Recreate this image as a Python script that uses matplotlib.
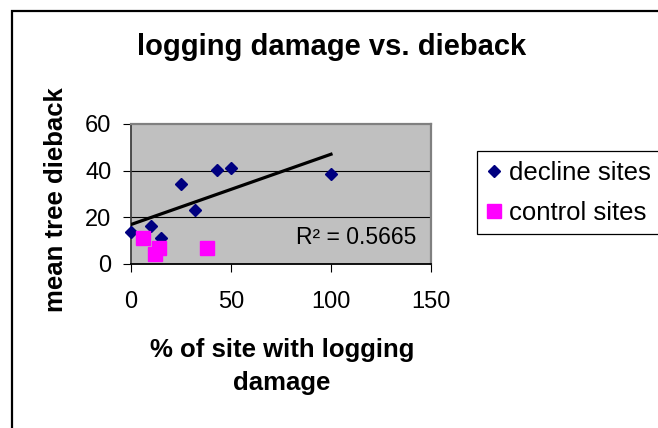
import numpy as np
import matplotlib
matplotlib.use("Agg")
import matplotlib.pyplot as plt
from matplotlib.patches import Rectangle

# ---- data ----
decline_x = [0, 10, 15, 25, 32, 43, 50, 100]
decline_y = [13.6, 16.4, 11.0, 34.3, 23.1, 40.1, 41.0, 38.7]
control_x = [6, 12, 14, 38]
control_y = [11.1, 4.3, 7.0, 6.7]
x_ticks = [0, 50, 100, 150]
y_ticks = [0, 20, 40, 60]
r2_label = "R\u00b2 = 0.5665"
title = "logging damage vs. dieback"
xlabel = "% of site with logging\ndamage"
ylabel = "mean tree dieback"
legend_labels = ["decline sites", "control sites"]

plt.rcParams['font.family'] = ['Liberation Sans', 'DejaVu Sans']

W, H = 658, 428
fig = plt.figure(figsize=(W / 100, H / 100), dpi=100)

def fx(px):
    return px / W

def fy(py):
    return 1 - py / H

# outer chart frame (right and bottom edges fall outside the picture)
fig.patches.append(Rectangle((fx(11.5), -0.1), 1.2, fy(10.7) + 0.1,
                             transform=fig.transFigure, fill=False,
                             edgecolor='black', linewidth=1.6, clip_on=False))

ax = fig.add_axes([fx(131), fy(264), fx(431) - fx(131), (264 - 124) / H])
ax.set_facecolor('#C0C0C0')
ax.set_xlim(0, 150)
ax.set_ylim(0, 60)
ax.set_xticks(x_ticks)
ax.set_yticks(y_ticks)

for yv in y_ticks[1:-1]:
    ax.axhline(yv, color='black', linewidth=0.8, zorder=1)

ax.spines['top'].set_color('#808080')
ax.spines['right'].set_color('#808080')
ax.spines['top'].set_linewidth(1.6)
ax.spines['right'].set_linewidth(1.6)
ax.spines['left'].set_color('#404040')
ax.spines['left'].set_linewidth(1.3)
ax.spines['bottom'].set_color('black')
ax.spines['bottom'].set_linewidth(1.3)

ax.tick_params(axis='both', direction='out', length=6, width=0.8,
               color='black', labelsize=17)
ax.tick_params(axis='y', pad=8)
ax.tick_params(axis='x', pad=13.5)

# trendline (linear fit of decline sites)
slope, intercept = np.polyfit(decline_x, decline_y, 1)
tx = np.array([min(decline_x), max(decline_x)])
ax.plot(tx, slope * tx + intercept, color='black', linewidth=2.3, zorder=3)

ax.plot(decline_x, decline_y, linestyle='none', marker='D', markersize=6.3,
        color='#000080', label=legend_labels[0], zorder=4, clip_on=False)
ax.plot(control_x, control_y, linestyle='none', marker='s', markersize=9.5,
        color='#FF00FF', label=legend_labels[1], zorder=4, clip_on=False)

ax.text(0.95, 0.188, r2_label, transform=ax.transAxes, ha='right',
        va='center', fontsize=16.5)

fig.text(fx(332), fy(55), title, ha='center', va='baseline',
         fontsize=21, fontweight='bold')
fig.text(fx(63), fy(199.5), ylabel, ha='center', va='baseline',
         rotation=90, rotation_mode='anchor', fontsize=18.5,
         fontweight='bold')
fig.text(fx(282), fy(390), xlabel, ha='center', va='baseline',
         fontsize=18.5, fontweight='bold', linespacing=1.45,
         multialignment='center')

leg = ax.legend(loc='upper left', bbox_to_anchor=(fx(477), fy(151)),
                bbox_transform=fig.transFigure, frameon=True, fancybox=False,
                shadow=False, fontsize=18.5, borderaxespad=0,
                borderpad=0.38, handlelength=0.6, handletextpad=0.25,
                labelspacing=0.62, markerscale=1.0, numpoints=1)
leg.get_frame().set_edgecolor('black')
leg.get_frame().set_linewidth(0.9)
leg.get_frame().set_facecolor('white')
leg.get_frame().set_alpha(1)
leg.set_clip_on(False)

fig.savefig('out.png', dpi=100)
